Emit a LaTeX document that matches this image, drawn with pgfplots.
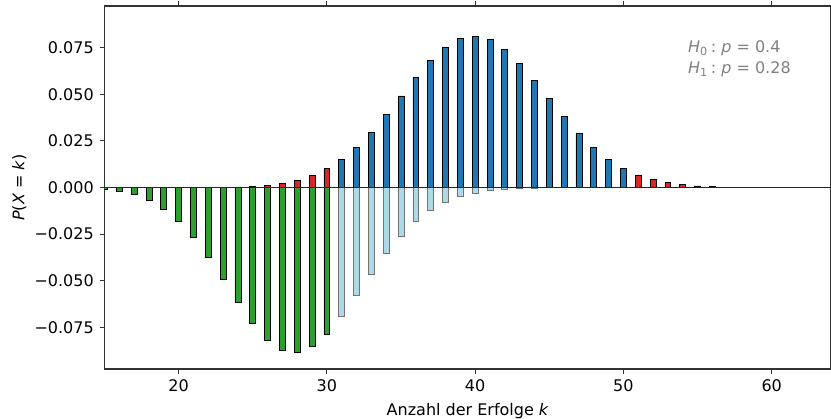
\documentclass[border=0pt]{standalone}
\usepackage{fontspec}
\setmainfont{DejaVu Sans}
\usepackage{pgfplots}
\usepackage{pgfplotstable}
\pgfplotsset{compat=1.18}
\definecolor{mblue}{RGB}{31,119,180}
\definecolor{mred}{RGB}{214,39,40}
\definecolor{mgreen}{RGB}{44,160,44}
\definecolor{mlightblue}{RGB}{173,216,230}

\pgfplotstableread{
k p
15 0.0000000
16 0.0000001
17 0.0000005
18 0.0000014
19 0.0000039
20 0.0000105
21 0.0000268
22 0.0000641
23 0.000145
24 0.000310
25 0.000628
26 0.001207
27 0.002205
28 0.003832
29 0.006343
30 0.010008
}\hnullleft
\pgfplotstableread{
k p
31 0.015065
32 0.021656
33 0.029750
34 0.039083
35 0.049133
36 0.059141
37 0.068199
38 0.075378
39 0.079888
40 0.081219
41 0.079238
42 0.074207
43 0.066729
44 0.057629
45 0.047811
46 0.038110
47 0.029191
48 0.021488
49 0.015202
50 0.010337
}\hnullmid
\pgfplotstableread{
k p
51 0.006756
52 0.004244
53 0.002563
54 0.001487
55 0.000829
56 0.000444
57 0.000229
58 0.000113
59 0.0000536
60 0.0000244
61 0.0000107
62 0.0000045
63 0.0000018
64 0.0000007
}\hnullright
\pgfplotstableread{
k p
15 -0.000965
16 -0.001993
17 -0.003829
18 -0.006867
19 -0.011525
20 -0.018152
21 -0.026892
22 -0.037553
23 -0.049526
24 -0.061793
25 -0.073053
26 -0.081951
27 -0.087347
28 -0.088560
29 -0.085506
30 -0.078697
}\heinsleft
\pgfplotstableread{
k p
31 -0.069107
32 -0.057949
33 -0.046437
34 -0.035587
35 -0.026097
36 -0.018324
37 -0.012326
38 -0.007947
39 -0.004913
40 -0.002914
41 -0.001658
42 -0.000906
43 -0.000475
44 -0.000239
45 -0.000116
46 -0.0000539
47 -0.0000241
48 -0.0000103
49 -0.0000043
50 -0.0000017
51 -0.0000006
52 -0.0000002
53 0
54 0
55 0
56 0
57 0
58 0
59 0
60 0
61 0
62 0
63 0
64 0
}\heinsright

\begin{document}%
\begin{tikzpicture}[font=\fontsize{9.6}{11.5}\selectfont]
\begin{axis}[
  scale only axis,
  width=435.9pt, height=217.8pt,
  xmin=15, xmax=64,
  ymin=-0.0974, ymax=0.0974,
  axis line style={line width=0.65pt, black!80},
  tick align=outside,
  major tick length=2.9pt,
  tick style={line width=0.5pt, black!80},
  xtick={20,30,40,50,60},
  ytick={-0.075,-0.05,-0.025,0,0.025,0.05,0.075},
  yticklabels={−0.075,−0.050,−0.025,0.000,0.025,0.050,0.075},
  xticklabel style={font=\fontsize{9.6}{11.5}\selectfont},
  yticklabel style={font=\fontsize{9.6}{11.5}\selectfont},
  /pgf/number format/assume math mode=true,
  xlabel={Anzahl der Erfolge \textit{k}},
  ylabel={\textit{P}(\textit{X} = \textit{k})},
  xlabel style={font=\fontsize{9.6}{11.5}\selectfont},
  ylabel style={yshift=-2pt, font=\fontsize{9.6}{11.5}\selectfont},
  clip=true,
]
\addplot[ybar, bar width=0.4, bar shift=0pt, fill=mred, draw=black, line width=0.45pt] table[x=k,y=p] {\hnullleft};
\addplot[ybar, bar width=0.4, bar shift=0pt, fill=mblue, draw=black, line width=0.45pt] table[x=k,y=p] {\hnullmid};
\addplot[ybar, bar width=0.4, bar shift=0pt, fill=mred, draw=black, line width=0.45pt] table[x=k,y=p] {\hnullright};
\addplot[ybar, bar width=0.4, bar shift=0pt, fill=mgreen, draw=black, line width=0.45pt] table[x=k,y=p] {\heinsleft};
\addplot[ybar, bar width=0.4, bar shift=0pt, fill=mlightblue, draw=black!55, line width=0.45pt] table[x=k,y=p] {\heinsright};
\draw[black!85, line width=0.7pt] (axis cs:15,0) -- (axis cs:64,0);
\node[anchor=north west, text=gray, align=left, inner sep=0pt, font=\fontsize{9.6}{12.6}\selectfont]
  at (rel axis cs:0.803,0.905)
  {\textit{H}\textsubscript{0}\,:\ \textit{p} = 0.4\\ \textit{H}\textsubscript{1}\,:\ \textit{p} = 0.28};
\coordinate (sw) at (rel axis cs:0,0);
\coordinate (ne) at (rel axis cs:1,1);
\end{axis}
\pgfresetboundingbox
\path[use as bounding box] ([xshift=-62.7pt,yshift=-30pt]sw) rectangle ([yshift=3.6pt]ne);
\end{tikzpicture}%
\end{document}
